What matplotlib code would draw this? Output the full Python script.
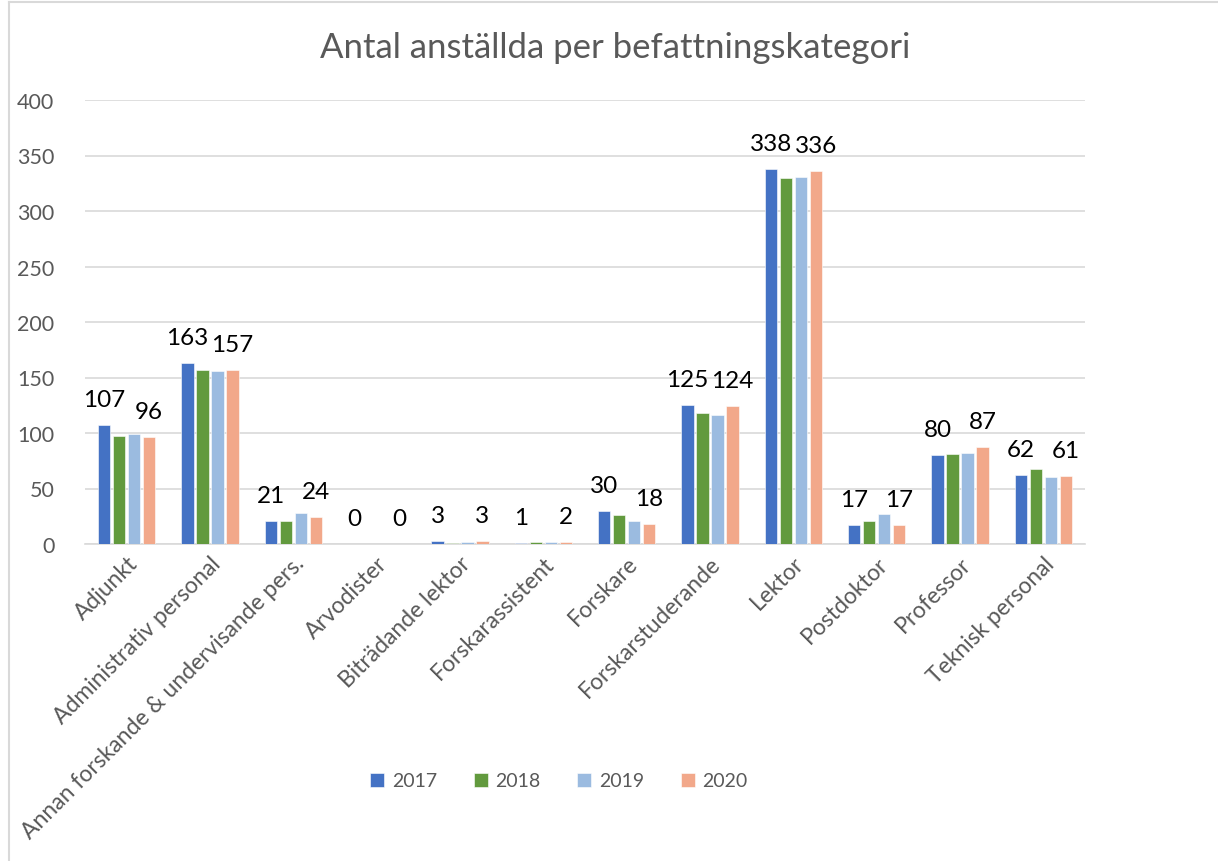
import numpy as np
import matplotlib.pyplot as plt
from matplotlib.lines import Line2D

plt.rcParams['font.family'] = ['Lato', 'DejaVu Sans']

categories = ['Adjunkt', 'Administrativ personal', 'Annan forskande & undervisande pers.',
              'Arvodister', 'Biträdande lektor', 'Forskarassistent', 'Forskare',
              'Forskarstuderande', 'Lektor', 'Postdoktor', 'Professor', 'Teknisk personal']
years = ['2017', '2018', '2019', '2020']
v2017 = [107, 163, 21, 0, 3, 1, 30, 125, 338, 17, 80, 62]
v2018 = [97, 157, 21, 0, 1, 2, 26, 118, 330, 21, 81, 68]
v2019 = [99, 156, 28, 0, 2, 2, 21, 116, 331, 27, 82, 60]
v2020 = [96, 157, 24, 0, 3, 2, 18, 124, 336, 17, 87, 61]
series = [v2017, v2018, v2019, v2020]
colors = ['#4472C4', '#629A3E', '#9BBBE0', '#F2A88A']
labelled = [True, False, False, True]

fig = plt.figure(figsize=(12.18, 8.62), dpi=100)
ax = fig.add_axes([85 / 1218, 1 - 545 / 862, 1000 / 1218, 444 / 862])

x = np.arange(len(categories))
pitch = 0.18
width = 0.145
for i, (vals, col) in enumerate(zip(series, colors)):
    pos = x + (i - 1.5) * pitch
    ax.bar(pos, vals, width, color=col, label=years[i], edgecolor='white', linewidth=0.4, zorder=3)
    if labelled[i]:
        for px, v in zip(pos, vals):
            ax.annotate(str(v), (px, v), xytext=(0, 15), textcoords='offset pixels',
                        ha='center', va='bottom', fontsize=17.5, color='black')

ax.set_xlim(-0.5, len(categories) - 0.5)
ax.set_ylim(0, 400)
ax.set_yticks(range(0, 401, 50))
ax.grid(axis='y', color='#d9d9d9', linewidth=1.2, zorder=0)
for s in ['top', 'right', 'left']:
    ax.spines[s].set_visible(False)
ax.spines['bottom'].set_color('#d9d9d9')
ax.spines['bottom'].set_linewidth(1.2)
ax.tick_params(axis='both', length=0, labelcolor='#595959')
ax.tick_params(axis='y', pad=22, labelsize=15.5)
ax.tick_params(axis='x', pad=6, labelsize=16.5)
ax.set_xticks(x)
ax.set_xticklabels(categories, rotation=45, ha='right', rotation_mode='anchor')

fig.text(615 / 1218, 1 - 48 / 862, 'Antal anställda per befattningskategori',
         ha='center', va='center', fontsize=25, color='#595959')

leg = fig.legend(loc='center', bbox_to_anchor=(559 / 1218, 1 - 782 / 862), ncol=4,
                 frameon=False, fontsize=14, handlelength=0.7, handleheight=0.7,
                 handletextpad=0.4, columnspacing=1.9)
for t in leg.get_texts():
    t.set_color('#595959')

# chart area border
fig.add_artist(Line2D([9 / 1218, 9 / 1218], [0, 1 - 3 / 862], color='#d9d9d9', lw=1.5))
fig.add_artist(Line2D([9 / 1218, 1], [1 - 3 / 862, 1 - 3 / 862], color='#d9d9d9', lw=1.5))

fig.savefig('out.png', dpi=100)
